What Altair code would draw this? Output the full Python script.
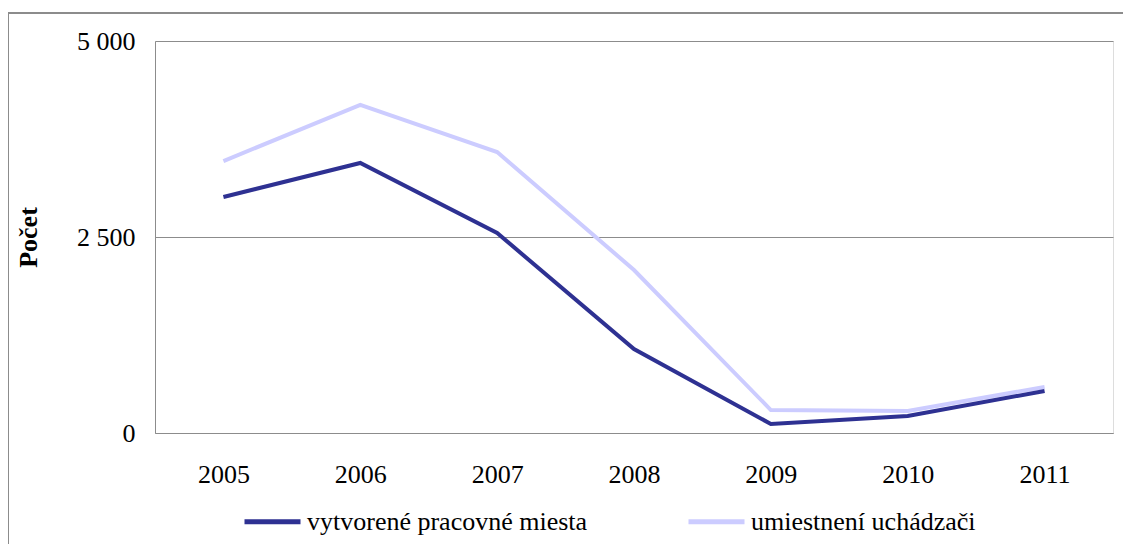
import altair as alt
import pandas as pd

years = ["2005", "2006", "2007", "2008", "2009", "2010", "2011"]
series_names = ["vytvorené pracovné miesta", "umiestnení uchádzači"]
vytvorene = [3010, 3444, 2551, 1071, 115, 217, 536]
umiestneni = [3469, 4184, 3584, 2079, 293, 281, 587]
colors = ["#2e3192", "#ccccff"]

rows = []
for y, v in zip(years, umiestneni):
    rows.append({"rok": y, "séria": series_names[1], "hodnota": v, "ord": 0})
for y, v in zip(years, vytvorene):
    rows.append({"rok": y, "séria": series_names[0], "hodnota": v, "ord": 1})
df = pd.DataFrame(rows)

FONT = "Times New Roman, Liberation Serif, serif"
FS = 26

frame = alt.Chart(pd.DataFrame({"a": [0]})).mark_rect(
    fill=None, stroke="#8c8c8c", strokeWidth=2
).encode(
    x=alt.value(-147), x2=alt.value(1010), y=alt.value(-28), y2=alt.value(540)
)

lines = alt.Chart(df).mark_line(strokeWidth=4, strokeJoin="miter").encode(
    x=alt.X("rok:O", sort=years, title=None,
            axis=alt.Axis(labelAngle=0, ticks=False, labelPadding=28, domainColor="#8c8c8c",
                          labelFontSize=FS, labelFont=FONT, labelColor="#000")),
    y=alt.Y("hodnota:Q", scale=alt.Scale(domain=[0, 5000], nice=False),
            title="Počet",
            axis=alt.Axis(values=[0, 2500, 5000], ticks=False, labelPadding=20,
                          labelExpr="replace(format(datum.value, ','), ',', ' ')",
                          domainColor="#8c8c8c", gridColor="#8c8c8c", grid=True,
                          labelFontSize=FS, labelFont=FONT, labelColor="#000",
                          titleFont=FONT, titleFontSize=FS, titleFontWeight="bold",
                          titleColor="#000", titleX=-127, titleBaseline="middle")),
    color=alt.Color("séria:N", scale=alt.Scale(domain=series_names, range=colors),
                    title=None,
                    legend=alt.Legend(orient="none", legendX=87, legendY=450,
                                      direction="horizontal", symbolType="stroke",
                                      symbolSize=3136, symbolStrokeWidth=5,
                                      labelFont=FONT, labelFontSize=FS, labelColor="#000",
                                      labelOffset=4, columnPadding=90, labelLimit=500)),
    order=alt.Order("ord:Q"),
)

chart = alt.layer(frame, lines).properties(
    width=958, height=392,
    padding={"left": 147, "top": 33, "right": 10, "bottom": 111},
    autosize=alt.AutoSizeParams(type="none"),
).configure_view(stroke=None).configure(font=FONT)

chart.save("out.html", embed_options={"renderer": "svg", "actions": False})
